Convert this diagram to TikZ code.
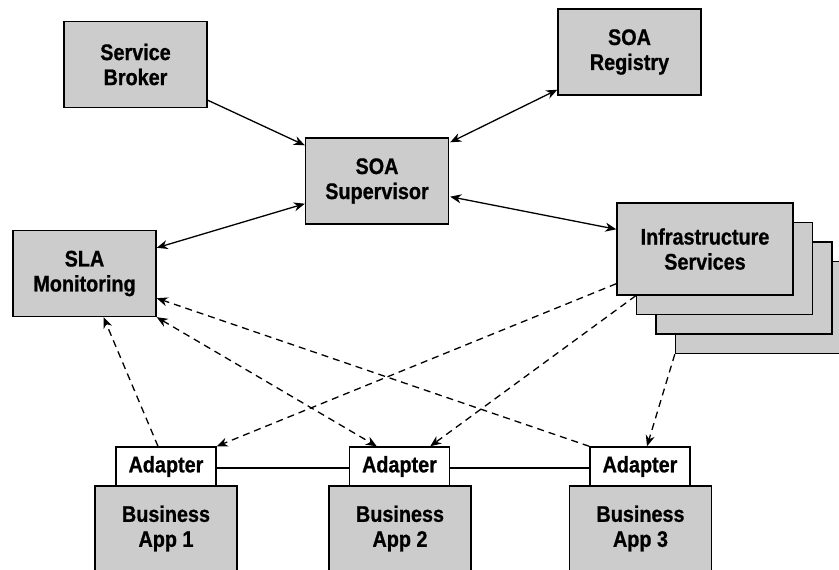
\documentclass[tikz,border=0pt]{standalone}
\usepackage{fontspec}
\setmainfont{Liberation Sans}[FakeStretch=0.88, BoldFeatures={FakeBold=0.8}]
\usetikzlibrary{arrows.meta,calc}
\definecolor{boxgray}{RGB}{204,204,204}
\begin{document}
\begin{tikzpicture}[x=1pt,y=-1pt,
  txt/.style={font=\fontsize{22.5}{25}\selectfont\bfseries, align=center, inner sep=0pt},
  box/.style={txt, draw=black, line width=1.4pt, fill=boxgray, minimum width=143pt, minimum height=86pt},
  infbox/.style={box, minimum width=176pt, minimum height=92pt},
  abox/.style={txt, draw=black, line width=1.4pt, fill=white, minimum width=100pt, minimum height=39pt},
  appbox/.style={box, minimum width=142pt, minimum height=85pt},
  conn/.style={line width=1.3pt},
  dconn/.style={conn, dash pattern=on 7pt off 5pt},
  tip/.tip={Stealth[length=11pt,width=9pt,inset=3.5pt]}
]
\useasboundingbox (0,0) rectangle (839,570);
% top boxes
\node[box] (sb) at (135.5,64.5) {Service\\Broker};
\node[box] (reg) at (629.5,52) {SOA\\Registry};
\node[box] (sup) at (377,181) {SOA\\Supervisor};
\node[box] (sla) at (84.5,273.5) {SLA\\Monitoring};
% infrastructure stack
\node[infbox] (inf4) at (763.5,307.5) {};
\node[infbox] (inf3) at (744,288) {};
\node[infbox] (inf2) at (724.5,268.5) {};
\node[infbox] (inf) at (705,249) {Infrastructure\\Services};
% business apps
\node[appbox] (ba1) at (166,528.5) {Business\\App 1};
\node[appbox] (ba2) at (400,528.5) {Business\\App 2};
\node[appbox] (ba3) at (640.5,528.5) {Business\\App 3};
\node[abox] (ad1) at (166,466.5) {Adapter};
\node[abox] (ad2) at (399.5,466.5) {Adapter};
\node[abox] (ad3) at (640,466.5) {Adapter};
% solid connectors
\draw[conn,-tip] ($(sb.south east)+(0,-8)$) -- ($(sup.north west)+(0,8)$);
\draw[conn,tip-tip] ($(sup.north east)+(1,5)$) -- ($(reg.south west)+(0,-6)$);
\draw[conn,tip-tip] ($(sup.south east)+(1,-28)$) -- ($(inf.north west)+(0,27)$);
\draw[conn,tip-tip] ($(sup.south west)+(0,-21)$) -- ($(sla.north east)+(0,18)$);
\draw[conn,line width=1.6pt] ($(ad1.east)+(0,1.5)$) -- ($(ad2.west)+(0,1.5)$);
\draw[conn,line width=1.6pt] ($(ad2.east)+(0,1.5)$) -- ($(ad3.west)+(0,1.5)$);
% dashed connectors
\draw[dconn,-tip] ($(ad1.north)+(-8,0)$) -- ($(sla.south)+(19,0)$);
\draw[dconn,tip-tip] (sla.south east) -- ($(ad2.north west)+(28,0)$);
\draw[dconn,-tip] (ad3.north west) -- ($(sla.south east)+(0,-19)$);
\draw[dconn,-tip] ($(inf.south west)+(0,-12)$) -- (ad1.north east);
\draw[dconn,-tip] (inf2.west |- inf.south) -- ($(ad2.north east)+(-20,0)$);
\draw[dconn,-tip] (inf4.south west) -- ($(ad3.north)+(7,0)$);
\end{tikzpicture}
\end{document}
